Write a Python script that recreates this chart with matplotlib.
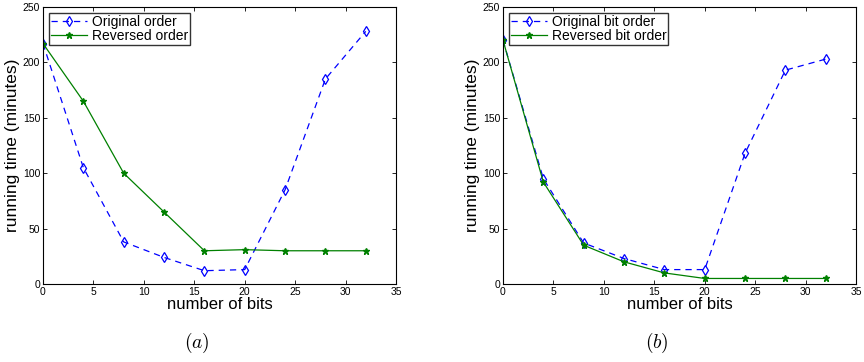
import numpy as np
import matplotlib
matplotlib.use("Agg")
import matplotlib.pyplot as plt

plt.rcParams['font.family'] = ['Liberation Sans', 'DejaVu Sans']
plt.rcParams['mathtext.fontset'] = 'cm'

bits = [0, 4, 8, 12, 16, 20, 24, 28, 32]

# panel (a)
orig_a = [217, 105, 38, 24, 12, 13, 85, 185, 228]
rev_a = [217, 165, 100, 65, 30, 31, 30, 30, 30]

# panel (b)
orig_b = [220, 95, 37, 23, 13, 13, 118, 193, 203]
rev_b = [220, 92, 35, 20, 10, 5, 5, 5, 5]

xticks = [0, 5, 10, 15, 20, 25, 30, 35]
yticks = [0, 50, 100, 150, 200, 250]

fig = plt.figure(figsize=(8.64, 3.62), dpi=100)

panels = [
    (43, orig_a, rev_a, 'Original order', 'Reversed order', '$(a)$'),
    (503, orig_b, rev_b, 'Original bit order', 'Reversed bit order', '$(b)$'),
]

W, H = 864, 362
for left, orig, rev, lab1, lab2, cap in panels:
    ax = fig.add_axes([left / W, (H - 284) / H, 353 / W, 277 / H])
    ax.plot(bits, orig, color='#0000ff', linestyle=(0, (5, 4)), linewidth=0.9,
            marker='d', markersize=5.5, markerfacecolor='none',
            markeredgecolor='#0000ff', markeredgewidth=0.9, label=lab1)
    ax.plot(bits, rev, color='#008000', linestyle='-', linewidth=0.9,
            marker='*', markersize=5, markerfacecolor='#008000',
            markeredgecolor='#008000', label=lab2)
    ax.set_xlim(0, 35)
    ax.set_ylim(0, 250)
    ax.set_xticks(xticks)
    ax.set_yticks(yticks)
    ax.tick_params(direction='in', top=True, right=True, labelsize=7.5,
                   length=3, width=0.6, pad=2)
    for s in ax.spines.values():
        s.set_linewidth(0.8)
    ax.set_xlabel('number of bits', fontsize=12, labelpad=0)
    ax.set_ylabel('running time (minutes)', fontsize=12.5, labelpad=2)
    leg = ax.legend(loc='upper left', fontsize=10, frameon=True, fancybox=False,
                    borderpad=0.15, handlelength=2.6, handletextpad=0.3,
                    labelspacing=0.0, borderaxespad=0.45)
    leg.get_frame().set_edgecolor('black')
    leg.get_frame().set_linewidth(1.0)
    fig.text((left + 154) / W, (H - 343) / H, cap, fontsize=14,
             ha='center', va='center')

fig.savefig('out.png', dpi=100)
